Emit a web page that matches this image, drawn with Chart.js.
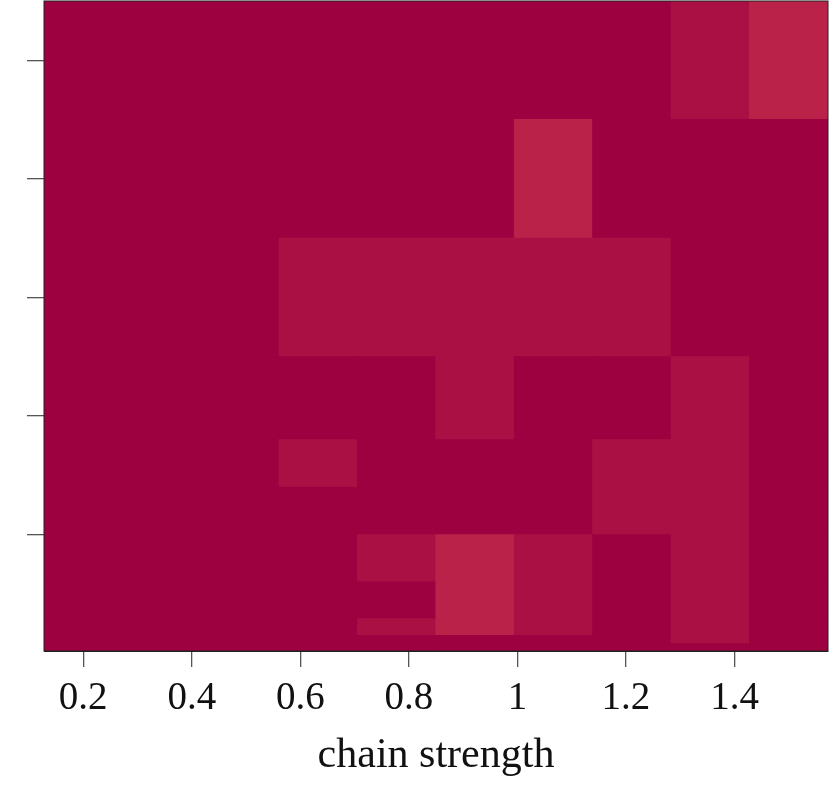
<!DOCTYPE html>
<html>
<head>
<meta charset="utf-8">
<script src="https://cdn.jsdelivr.net/npm/chart.js@4.4.1/dist/chart.umd.min.js"></script>
<style>
  html, body { margin: 0; padding: 0; background: #fff; }
  canvas { display: block; }
</style>
</head>
<body>
<canvas id="heat" width="829" height="785"></canvas>
<script>
// chain strength values (column centres)
var chainStrength = [0.2, 0.3444, 0.4889, 0.6333, 0.7778, 0.9222, 1.0667, 1.2111, 1.3556, 1.5];
// row edges on the (unlabelled) y axis, bottom to top
var rowEdges = [0.02, 0.08, 0.15, 0.29, 0.6, 1.0, 1.4, 1.8, 2.5, 3.5, 4.5, 5.5];
// cell levels per row (bottom to top), one entry per chain strength
var rowLevels = [
  [0, 0, 0, 0, 0, 0, 0, 0, 0, 0],
  [0, 0, 0, 0, 0, 0, 0, 0, 1, 0],
  [0, 0, 0, 0, 1, 2, 1, 0, 1, 0],
  [0, 0, 0, 0, 0, 2, 1, 0, 1, 0],
  [0, 0, 0, 0, 1, 2, 1, 0, 1, 0],
  [0, 0, 0, 0, 0, 0, 0, 1, 1, 0],
  [0, 0, 0, 1, 0, 0, 0, 1, 1, 0],
  [0, 0, 0, 0, 0, 1, 0, 0, 1, 0],
  [0, 0, 0, 1, 1, 1, 1, 1, 0, 0],
  [0, 0, 0, 0, 0, 0, 2, 0, 0, 0],
  [0, 0, 0, 0, 0, 0, 0, 0, 1, 2]
];
var levelColors = ['#9d0140', '#ab1044', '#bb2249'];
var xTickValues = [0.2, 0.4, 0.6, 0.8, 1.0, 1.2, 1.4];
var xTickLabels = ['0.2', '0.4', '0.6', '0.8', '1', '1.2', '1.4'];
var yTickValues = [1, 2, 3, 4, 5];

var datasets = rowLevels.map(function (levels, r) {
  return {
    data: chainStrength.map(function (x) { return { x: x, y: [rowEdges[r], rowEdges[r + 1]] }; }),
    backgroundColor: levels.map(function (v) { return levelColors[v]; }),
    borderWidth: 0,
    inflateAmount: 0.6,
    barPercentage: 1,
    categoryPercentage: 1
  };
});

// frame around the plot area
var frame = {
  id: 'frame',
  afterDraw: function (chart) {
    var a = chart.chartArea, ctx = chart.ctx;
    ctx.save();
    ctx.strokeStyle = '#222';
    ctx.lineWidth = 1;
    ctx.strokeRect(a.left, a.top, a.right - a.left, a.bottom - a.top);
    ctx.restore();
  }
};

var serif = '"Liberation Serif", "DejaVu Serif", serif';

new Chart(document.getElementById('heat').getContext('2d'), {
  type: 'bar',
  data: { datasets: datasets },
  plugins: [frame],
  options: {
    responsive: false,
    animation: false,
    layout: { padding: { top: 1, right: 1, left: 0, bottom: 0 } },
    plugins: { legend: { display: false }, tooltip: { enabled: false } },
    datasets: { bar: { grouped: false } },
    scales: {
      x: {
        type: 'linear',
        offset: false,
        min: 0.12778,
        max: 1.57222,
        afterBuildTicks: function (s) { s.ticks = xTickValues.map(function (v) { return { value: v }; }); },
        afterFit: function (s) { s.height = 134; },
        grid: { display: true, offset: false, drawOnChartArea: false, drawTicks: true, tickLength: 16, color: '#555', lineWidth: 1.3 },
        border: { display: true, color: '#222', width: 1 },
        ticks: {
          padding: 8,
          color: '#111',
          font: { family: serif, size: 39 },
          callback: function (v, i) { return xTickLabels[i]; }
        },
        title: {
          display: true,
          text: 'chain strength',
          color: '#111',
          font: { family: serif, size: 42 },
          padding: { top: 0, bottom: 4 }
        }
      },
      y: {
        type: 'linear',
        min: 0.02,
        max: 5.5,
        afterBuildTicks: function (s) { s.ticks = yTickValues.map(function (v) { return { value: v }; }); },
        afterFit: function (s) { s.width = 44; },
        grid: { display: true, drawOnChartArea: false, drawTicks: true, tickLength: 17, color: '#555', lineWidth: 1.3 },
        border: { display: true, color: '#222', width: 1 },
        ticks: { display: false }
      }
    }
  }
});
</script>
</body>
</html>
